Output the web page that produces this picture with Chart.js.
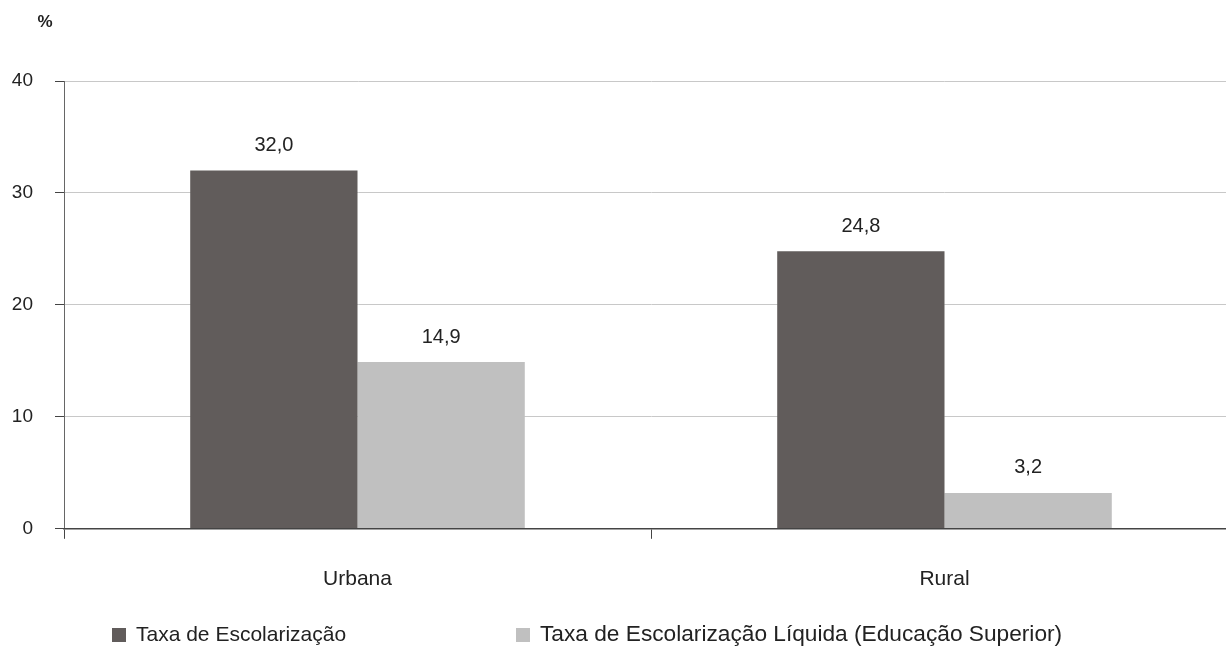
<!DOCTYPE html>
<html lang="pt">
<head>
<meta charset="utf-8">
<title>Taxa de Escolarização</title>
<script src="https://cdn.jsdelivr.net/npm/chart.js@4"></script>
<style>
  html, body { margin: 0; padding: 0; background: #fff; overflow: hidden; }
  #wrap { width: 1240px; height: 647px; position: relative; }
</style>
</head>
<body>
<div id="wrap"><canvas id="chart"></canvas></div>
<script>
// Categorias e séries
const categories = ['Urbana', 'Rural'];
const taxaEscolarizacao = [32.0, 24.8];
const taxaLiquidaSuperior = [14.9, 3.2];
const seriesNames = ['Taxa de Escolarização', 'Taxa de Escolarização Líquida (Educação Superior)'];
const yTicks = [0, 10, 20, 30, 40];

const FONT = '"Liberation Sans", Arial, sans-serif';
const TEXT = '#222222';

const fmt = v => v.toFixed(1).replace('.', ',');

// Rótulos de valor acima das barras
const valueLabels = {
  id: 'valueLabels',
  afterDatasetsDraw(chart) {
    const ctx = chart.ctx;
    ctx.save();
    ctx.font = '20px ' + FONT;
    ctx.fillStyle = TEXT;
    ctx.textAlign = 'center';
    ctx.textBaseline = 'middle';
    chart.data.datasets.forEach((ds, i) => {
      chart.getDatasetMeta(i).data.forEach((bar, j) => {
        ctx.fillText(fmt(ds.data[j]), bar.x, bar.y - 25);
      });
    });
    ctx.restore();
  }
};

// Legenda inferior e unidade do eixo
const sideText = {
  id: 'sideText',
  afterDraw(chart, args, opts) {
    const ctx = chart.ctx;
    ctx.save();
    ctx.font = 'bold 17px ' + FONT;
    ctx.fillStyle = TEXT;
    ctx.textAlign = 'center';
    ctx.textBaseline = 'middle';
    ctx.fillText('%', 45, 22);

    ctx.textAlign = 'left';
    chart.data.datasets.forEach((ds, i) => {
      const x = opts.itemX[i];
      ctx.fillStyle = ds.backgroundColor;
      ctx.fillRect(x, opts.y - 7, 14, 14);
      ctx.font = opts.fontSize[i] + 'px ' + FONT;
      ctx.fillStyle = TEXT;
      ctx.fillText(ds.label, x + 24, opts.y);
    });
    ctx.restore();
  }
};

new Chart(document.getElementById('chart'), {
  type: 'bar',
  data: {
    labels: categories,
    datasets: [
      { label: seriesNames[0], data: taxaEscolarizacao, backgroundColor: '#615c5b' },
      { label: seriesNames[1], data: taxaLiquidaSuperior, backgroundColor: '#c0c0c0' }
    ]
  },
  options: {
    responsive: true,
    maintainAspectRatio: false,
    animation: false,
    datasets: { bar: { categoryPercentage: 0.57, barPercentage: 1.0 } },
    layout: { padding: { top: 81, right: 2, bottom: 27, left: 0 } },
    plugins: {
      legend: { display: false },
      tooltip: { enabled: false },
      sideText: { y: 635, itemX: [112, 516], fontSize: [21, 22.7] }
    },
    scales: {
      x: {
        offset: true,
        border: { color: '#444444', width: 1.5, z: 1 },
        grid: { display: true, drawOnChartArea: false, drawTicks: true, tickLength: 10, tickColor: '#444444' },
        ticks: { font: { family: FONT, size: 21 }, color: TEXT, padding: 28, maxRotation: 0 }
      },
      y: {
        min: 0, max: 40,
        afterBuildTicks(scale) { scale.ticks = yTicks.map(v => ({ value: v })); },
        afterFit(scale) { scale.width = 64; },
        border: { color: '#666666', width: 1 },
        grid: {
          color: c => (c.tick && c.tick.value === 0 ? 'rgba(0,0,0,0)' : '#c8c8c8'),
          lineWidth: 1, drawTicks: true, tickLength: 9, tickColor: '#444444'
        },
        ticks: { font: { family: FONT, size: 19 }, color: TEXT, padding: 22 }
      }
    }
  },
  plugins: [valueLabels, sideText]
});
</script>
</body>
</html>
